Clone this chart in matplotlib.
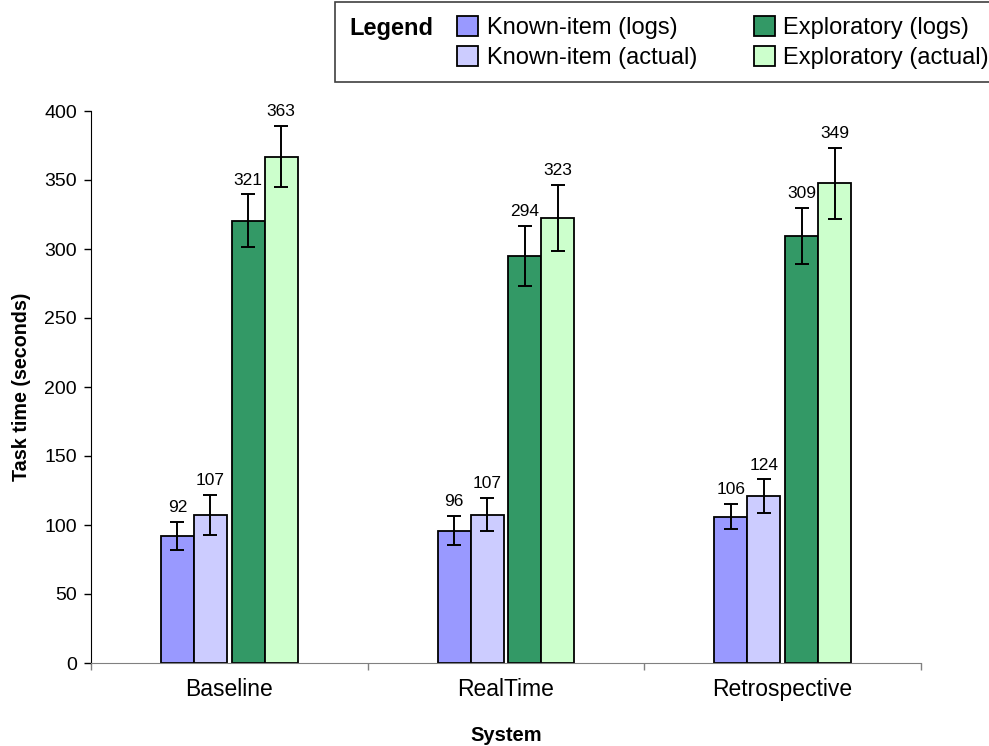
import numpy as np
from matplotlib import pyplot as plt
from matplotlib.patches import Rectangle

plt.rcParams['font.family'] = ['Liberation Sans', 'DejaVu Sans']

systems = ['Baseline', 'RealTime', 'Retrospective']
series_names = ['Known-item (logs)', 'Known-item (actual)', 'Exploratory (logs)', 'Exploratory (actual)']
series_colors = ['#9999FF', '#CCCCFF', '#339966', '#CCFFCC']

# bar heights as drawn
known_logs = [92, 96, 106]
known_actual = [107.5, 107.5, 121]
explor_logs = [320.5, 295, 309.5]
explor_actual = [367, 322.5, 347.5]

# error bar half widths
known_logs_err = [10, 10.7, 9]
known_actual_err = [14.5, 12, 12]
explor_logs_err = [19, 21.5, 20.5]
explor_actual_err = [22, 24, 25.5]

# printed value labels
known_logs_lbl = [92, 96, 106]
known_actual_lbl = [107, 107, 124]
explor_logs_lbl = [321, 294, 309]
explor_actual_lbl = [363, 323, 349]

values = [known_logs, known_actual, explor_logs, explor_actual]
errors = [known_logs_err, known_actual_err, explor_logs_err, explor_actual_err]
labels = [known_logs_lbl, known_actual_lbl, explor_logs_lbl, explor_actual_lbl]

fig = plt.figure(figsize=(9.89, 7.46), dpi=100)
ax = fig.add_axes([91 / 989, 1 - 663 / 746, 830 / 989, 552 / 746])

x = np.arange(len(systems))
bar_w = 0.119
offsets = [-0.1875, -0.0685, 0.0685, 0.1875]

handles = []
for vals, errs, lbls, off, name, col in zip(values, errors, labels, offsets, series_names, series_colors):
    bars = ax.bar(x + off, vals, width=bar_w, color=col, edgecolor='black', linewidth=1.3, label=name, zorder=2)
    ax.errorbar(x + off, vals, yerr=errs, fmt='none', ecolor='black', elinewidth=1.4, capsize=5, capthick=1.4, zorder=3)
    for xi, v, e, l in zip(x + off, vals, errs, lbls):
        ax.annotate(str(l), (xi, v + e), xytext=(0, 5), textcoords='offset points',
                    ha='center', va='bottom', fontsize=12.5)
    handles.append(bars)

ax.set_xlim(-0.5, 2.5)
ax.set_ylim(0, 400)
ax.set_yticks(np.arange(0, 401, 50))
ax.tick_params(axis='y', labelsize=14, length=5, width=1, pad=5)

ax.set_xticks(x)
ax.set_xticklabels(systems)
ax.set_xticks([-0.5, 0.5, 1.5, 2.5], minor=True)
ax.tick_params(axis='x', which='major', length=0, labelsize=16.5, pad=11)
ax.tick_params(axis='x', which='minor', length=5, width=1, color='#808080')

for side in ['top', 'right']:
    ax.spines[side].set_visible(False)
ax.spines['bottom'].set_color('#808080')
ax.spines['left'].set_color('black')

ax.set_ylabel('Task time (seconds)', fontsize=14.2, fontweight='bold')
ax.yaxis.set_label_coords(-0.072, 0.5)
ax.set_xlabel('System', fontsize=14.5, fontweight='bold')
ax.xaxis.set_label_coords(0.5, -0.114)

# legend box at the top, running off the right edge
fig.patches.append(Rectangle((335 / 989, 1 - 82 / 746), 0.7, 80 / 746, transform=fig.transFigure,
                             facecolor='white', edgecolor='#404040', linewidth=1.2))
fig.text(349 / 989, 1 - 28 / 746, 'Legend', fontsize=17, fontweight='bold', va='center', ha='left')
fig.legend(handles, series_names, ncol=2, loc='upper left', bbox_to_anchor=(457 / 989, 1 - 16 / 746),
           frameon=False, fontsize=17, handlelength=0.9, handleheight=0.9, handletextpad=0.35,
           columnspacing=2.4, labelspacing=0.3, borderpad=0, borderaxespad=0)

fig.savefig('out.png', dpi=100)
